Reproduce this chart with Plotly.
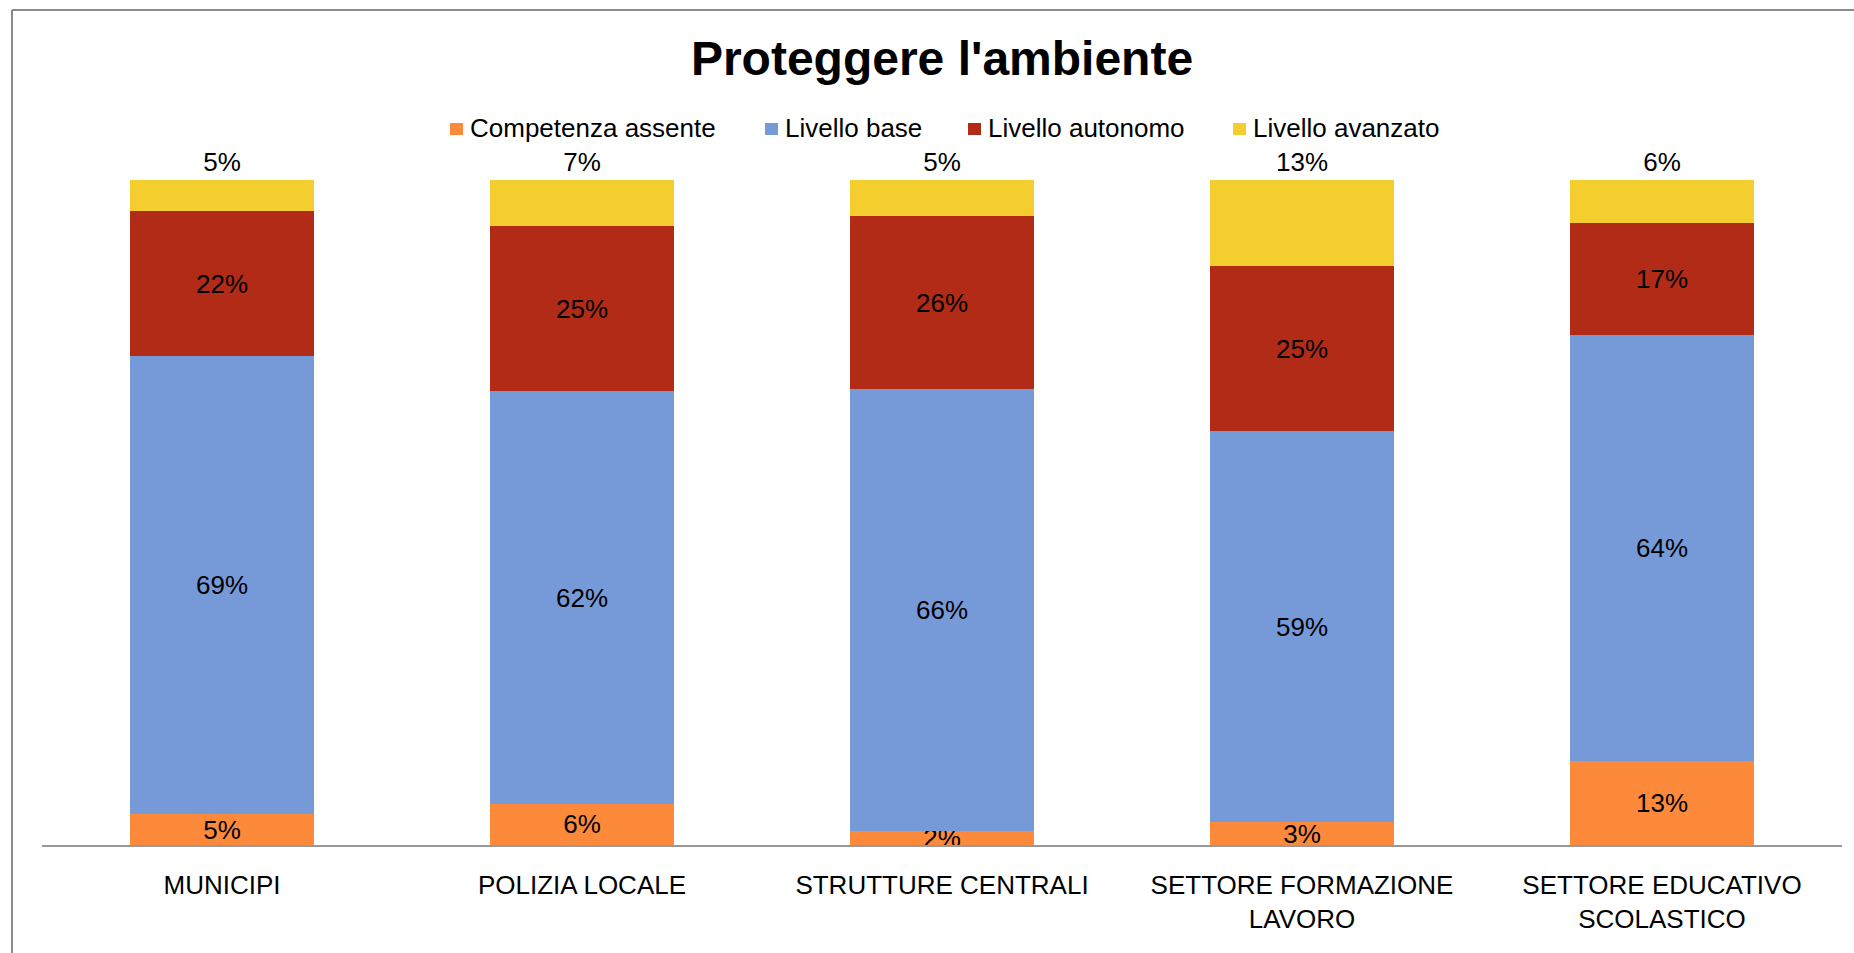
"""Stacked 100% bar chart: Proteggere l'ambiente."""

import plotly.graph_objects as go

CATEGORIES = [
    "MUNICIPI",
    "POLIZIA LOCALE",
    "STRUTTURE CENTRALI",
    "SETTORE FORMAZIONE<br>LAVORO",
    "SETTORE EDUCATIVO<br>SCOLASTICO",
]

# Shares in percent
COMPETENZA_ASSENTE = [4.6, 6.2, 2.1, 3.4, 12.6]
LIVELLO_BASE = [68.9, 62.0, 66.4, 58.8, 64.1]
LIVELLO_AUTONOMO = [21.8, 24.9, 26.1, 24.8, 16.9]
LIVELLO_AVANZATO = [4.7, 6.9, 5.4, 13.0, 6.4]

SERIES_NAMES = ["Competenza assente", "Livello base", "Livello autonomo", "Livello avanzato"]
SERIES_VALUES = [COMPETENZA_ASSENTE, LIVELLO_BASE, LIVELLO_AUTONOMO, LIVELLO_AVANZATO]
SERIES_COLORS = ["#FD893A", "#7699D8", "#B22B16", "#F4CD2E"]

FONT = "Liberation Sans, Arial, sans-serif"

# pixel layout of the plot area
W, H = 1854, 953
L, R, T, B = 42, 12, 180, 108
PW, PH = W - L - R, H - T - B

# legend entries: left edge of the swatch in pixels (Excel-style legend)
LEGEND_SWATCH_X = [450, 765, 968, 1233]
LEGEND_Y = 129


def px_x(p):
    return (p - L) / PW


def px_y(p):
    return (H - B - p) / PH


fig = go.Figure()
for i, (name, values, color) in enumerate(zip(SERIES_NAMES, SERIES_VALUES, SERIES_COLORS)):
    top = i == len(SERIES_NAMES) - 1
    fig.add_trace(
        go.Bar(
            x=CATEGORIES,
            y=values,
            name=name,
            marker={"color": color, "line": {"width": 0}},
            text=[f"{v:.0f}%" for v in values],
            textposition="outside" if top else "inside",
            insidetextanchor="middle",
            textangle=0,
            constraintext="none",
            textfont={"family": FONT, "size": 26, "color": "#000000"},
            cliponaxis=False,
            showlegend=False,
            hoverinfo="x+y+name",
        )
    )

shapes = [
    # chart frame (top and left edges visible)
    {
        "type": "line", "xref": "paper", "yref": "paper",
        "x0": px_x(12), "x1": px_x(W), "y0": px_y(10), "y1": px_y(10),
        "line": {"color": "#8a8a8a", "width": 2},
    },
    {
        "type": "line", "xref": "paper", "yref": "paper",
        "x0": px_x(12), "x1": px_x(12), "y0": px_y(10), "y1": px_y(H),
        "line": {"color": "#8a8a8a", "width": 2},
    },
]
annotations = []
for name, color, sx in zip(SERIES_NAMES, SERIES_COLORS, LEGEND_SWATCH_X):
    shapes.append(
        {
            "type": "rect", "xref": "paper", "yref": "paper",
            "x0": px_x(sx), "x1": px_x(sx + 13),
            "y0": px_y(LEGEND_Y - 6), "y1": px_y(LEGEND_Y + 6),
            "fillcolor": color, "line": {"width": 0},
        }
    )
    annotations.append(
        {
            "text": name, "xref": "paper", "yref": "paper",
            "x": px_x(sx + 18), "y": px_y(LEGEND_Y - 1),
            "xanchor": "left", "yanchor": "middle", "showarrow": False,
            "font": {"family": FONT, "size": 26, "color": "#000000"},
        }
    )

fig.update_layout(
    width=W,
    height=H,
    barmode="stack",
    bargap=0.49,
    font={"family": FONT, "size": 26, "color": "#000000"},
    title={
        "text": "<b>Proteggere l'ambiente</b>",
        "font": {"family": FONT, "size": 48, "color": "#000000"},
        "x": 0.5,
        "xref": "paper",
        "xanchor": "center",
        "y": 1 - 58 / H,
        "yref": "container",
        "yanchor": "middle",
    },
    showlegend=False,
    margin={"l": L, "r": R, "t": T, "b": B},
    paper_bgcolor="#ffffff",
    plot_bgcolor="#ffffff",
    shapes=shapes,
    annotations=annotations,
)
fig.update_xaxes(
    showline=True,
    linecolor="#999999",
    linewidth=2,
    showgrid=False,
    ticks="",
    ticklabelstandoff=16,
    tickfont={"family": FONT, "size": 26, "color": "#000000"},
)
fig.update_yaxes(
    range=[0, 100],
    visible=False,
    showgrid=False,
    zeroline=False,
)

fig.write_html(
    "out.html",
    config={"displayModeBar": False},
    post_script="document.body.style.margin='0';",
)
